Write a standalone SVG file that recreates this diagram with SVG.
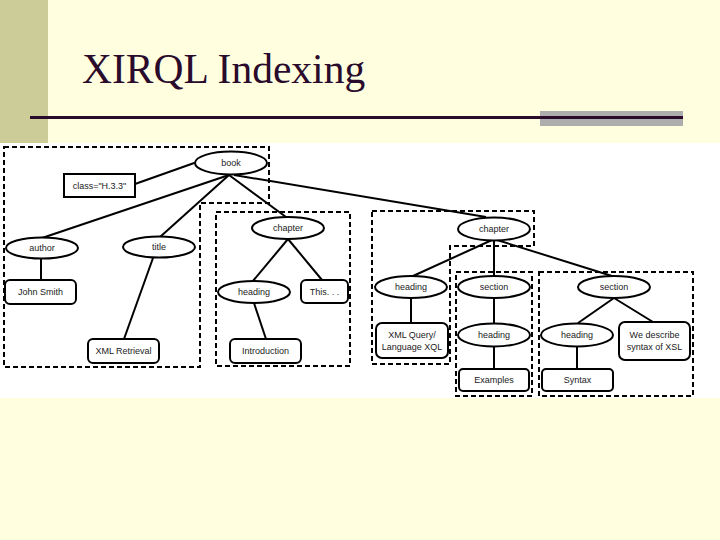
<svg xmlns="http://www.w3.org/2000/svg" width="720" height="540" viewBox="0 0 720 540">
<style>
.bg{fill:#FFFFE0}
.dash{fill:none;stroke:#000;stroke-width:2;stroke-dasharray:5,3}
.n{fill:#fff;stroke:#000;stroke-width:2}
.e{stroke:#000;stroke-width:2;fill:none}
.t{font-family:"Liberation Sans",Arial,sans-serif;font-size:9px;fill:#222;text-anchor:middle}
</style>
<rect class="bg" x="0" y="0" width="720" height="540"/>
<rect x="0" y="0" width="48" height="143" fill="#CCCC99"/>
<text x="82" y="83" font-family="Liberation Serif,'Times New Roman',serif" font-size="41.5" fill="#2B0B2B">XIRQL Indexing</text>
<rect x="540" y="111" width="143" height="15" fill="#ADADAD"/>
<line x1="30" y1="117.5" x2="683" y2="117.5" stroke="#2B0B2B" stroke-width="3"/>
<rect x="0" y="143" width="720" height="255" fill="#fff"/>

<g id="regions">
<polygon class="dash" points="4,147 269,147 269,203 200,203 200,367 4,367"/>
<rect class="dash" x="216" y="212" width="134" height="154"/>
<polygon class="dash" points="372,211 534,211 534,246 450,246 450,364 372,364"/>
<rect class="dash" x="456" y="272" width="76" height="124"/>
<rect class="dash" x="539" y="272" width="154" height="124"/>
</g>

<g id="connectors">
<line class="e" x1="197" y1="162" x2="135" y2="184"/>
<line class="e" x1="229" y1="175" x2="42" y2="238"/>
<line class="e" x1="229" y1="175" x2="160" y2="237"/>
<line class="e" x1="229" y1="175" x2="286" y2="217"/>
<line class="e" x1="234" y1="175" x2="486" y2="217"/>
<line class="e" x1="41" y1="258" x2="41" y2="280"/>
<line class="e" x1="153" y1="258" x2="124" y2="339"/>
<line class="e" x1="288" y1="239" x2="253" y2="281"/>
<line class="e" x1="288" y1="239" x2="322" y2="280"/>
<line class="e" x1="254" y1="303" x2="266" y2="339"/>
<line class="e" x1="492" y1="240" x2="413" y2="276"/>
<line class="e" x1="494" y1="240" x2="494" y2="276"/>
<line class="e" x1="497" y1="240" x2="612" y2="276"/>
<line class="e" x1="411" y1="298" x2="411" y2="323"/>
<line class="e" x1="494" y1="298" x2="494" y2="323"/>
<line class="e" x1="494" y1="346" x2="494" y2="369"/>
<line class="e" x1="614" y1="298" x2="578" y2="323"/>
<line class="e" x1="614" y1="298" x2="653" y2="322"/>
<line class="e" x1="577" y1="346" x2="577" y2="369"/>
</g>

<g id="book"><ellipse class="n" cx="231" cy="163" rx="36" ry="11.5"/><text class="t" x="231" y="166">book</text></g>
<g id="class-attr"><rect class="n" x="64" y="174" width="71" height="23"/><text class="t" x="99.5" y="188.5">class="H.3.3"</text></g>
<g id="author"><ellipse class="n" cx="42" cy="248" rx="36" ry="10.5"/><text class="t" x="42" y="251">author</text></g>
<g id="title"><ellipse class="n" cx="159" cy="247" rx="36" ry="10.5"/><text class="t" x="159" y="250">title</text></g>
<g id="john-smith"><rect class="n" x="5" y="280" width="71" height="24" rx="5"/><text class="t" x="40.5" y="295">John Smith</text></g>
<g id="xml-retrieval"><rect class="n" x="88" y="339" width="71" height="24" rx="5"/><text class="t" x="123.5" y="354">XML Retrieval</text></g>

<g id="chapter1"><ellipse class="n" cx="288" cy="228" rx="36" ry="11"/><text class="t" x="288" y="231">chapter</text></g>
<g id="heading1"><ellipse class="n" cx="254" cy="292" rx="36" ry="11"/><text class="t" x="254" y="295">heading</text></g>
<g id="this"><rect class="n" x="301" y="280" width="47" height="23" rx="5"/><text class="t" x="324.5" y="295">This. . .</text></g>
<g id="introduction"><rect class="n" x="230" y="339" width="71" height="24" rx="5"/><text class="t" x="265.5" y="354">Introduction</text></g>

<g id="chapter2"><ellipse class="n" cx="494" cy="229" rx="36" ry="11.5"/><text class="t" x="494" y="232">chapter</text></g>
<g id="heading2"><ellipse class="n" cx="411" cy="287" rx="36" ry="11"/><text class="t" x="411" y="290">heading</text></g>
<g id="section1"><ellipse class="n" cx="494" cy="287" rx="36" ry="11"/><text class="t" x="494" y="290">section</text></g>
<g id="section2"><ellipse class="n" cx="614" cy="287" rx="36" ry="11"/><text class="t" x="614" y="290">section</text></g>
<g id="xql"><rect class="n" x="376" y="323" width="72" height="35" rx="6"/><text class="t" x="412" y="338">XML Query/</text><text class="t" x="412" y="350">Language XQL</text></g>
<g id="heading3"><ellipse class="n" cx="494" cy="335" rx="36" ry="11.5"/><text class="t" x="494" y="338">heading</text></g>
<g id="heading4"><ellipse class="n" cx="577" cy="335" rx="36" ry="11.5"/><text class="t" x="577" y="338">heading</text></g>
<g id="describe"><rect class="n" x="619" y="322" width="71" height="38" rx="6"/><text class="t" x="654.5" y="338">We describe</text><text class="t" x="654.5" y="350">syntax of XSL</text></g>
<g id="examples"><rect class="n" x="459" y="369" width="70" height="22" rx="4"/><text class="t" x="494" y="383">Examples</text></g>
<g id="syntax"><rect class="n" x="542" y="369" width="71" height="22" rx="4"/><text class="t" x="577.5" y="383">Syntax</text></g>
</svg>
